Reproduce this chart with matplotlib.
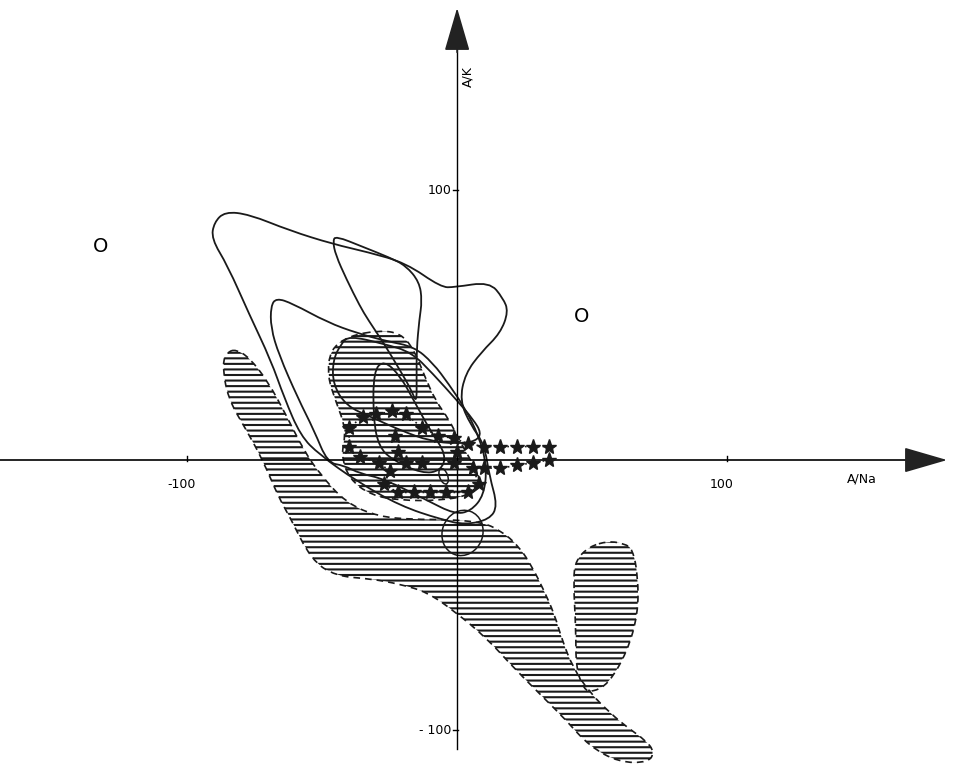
import matplotlib.pyplot as plt
from matplotlib.patches import PathPatch, Ellipse
from matplotlib.path import Path

# outlines, in axis units (A/Na, A/K)
contour_a = [(-86, 92), (-77, 91), (-62, 85), (-46, 80), (-33, 77), (-19, 73), (-6, 64), (-1, 64),
             (12, 66), (17, 60), (19, 55), (16, 47), (9, 40), (3, 32), (1, 22), (5, 13), (10, 6),
             (12, -6), (15, -17), (12, -22), (3, -24), (-6, -22), (-21, -17), (-37, -8), (-51, 2),
             (-58, 9), (-64, 23), (-69, 37), (-77, 54), (-85, 72), (-91, 82), (-90, 88)]
contour_b = [(-67, 60), (-61, 58), (-48, 51), (-37, 47), (-26, 44), (-16, 42), (-9, 36), (-3, 28),
             (3, 19), (8, 9), (11, -2), (10, -13), (5, -19), (-1, -20), (-11, -15), (-27, -7),
             (-36, -5), (-42, -2), (-48, -1), (-53, 11), (-59, 23), (-66, 39), (-69, 49), (-69, 57)]
contour_c = [(-45, 83), (-35, 79), (-25, 75), (-19, 72), (-14, 66), (-13, 59), (-14, 52), (-15, 41),
             (-15, 30), (-15, 21), (-17, 26), (-21, 33), (-27, 43), (-33, 52), (-36, 57), (-41, 67),
             (-45, 76), (-46, 81)]
contour_d = [(-40, 46), (-27, 43), (-17, 40), (-9, 32), (0, 22), (6, 15), (9, 10), (7, 7), (0, 6),
             (-10, 7), (-21, 11), (-32, 16), (-41, 20), (-46, 28), (-46, 37), (-43, 43)]
contour_e = [(-31, 33), (-27, 37), (-21, 31), (-16, 22), (-10, 11), (-4, 2), (-6, -4), (-13, -5),
             (-24, 0), (-29, 5), (-31, 15)]
small_loops = [((2, -27), 15, 17, -20), ((-5, -6), 3, 6, 20)]  # centre, width, height, angle

hatched_main = [(-82, 41), (-77, 38), (-70, 29), (-63, 16), (-57, 4), (-51, -5), (-41, -16), (-29, -21),
                (-16, -22), (-4, -22), (9, -23), (16, -26), (23, -32), (28, -40), (32, -48), (36, -57),
                (39, -67), (43, -77), (49, -86), (57, -94), (63, -99), (70, -104), (73, -108),
                (71, -112), (60, -112), (49, -106), (40, -96), (33, -89), (21, -77), (11, -66),
                (-1, -56), (-11, -49), (-21, -46), (-32, -44), (-45, -43), (-54, -37), (-62, -21),
                (-66, -14), (-72, 0), (-78, 11), (-85, 23), (-87, 36), (-85, 40)]
hatched_right = [(56, -30), (62, -31), (65, -33), (67, -43), (67, -57), (63, -71), (56, -83), (50, -86),
                 (47, -85), (44, -77), (44, -63), (43, -44), (44, -37), (49, -32)]
hatched_centre = [(-29, 48), (-21, 47), (-16, 41), (-12, 31), (-8, 22), (-3, 15), (1, 7), (5, 0),
                  (9, -7), (5, -13), (-6, -15), (-21, -15), (-32, -13), (-40, -7), (-43, 2), (-41, 11),
                  (-45, 22), (-48, 31), (-47, 41), (-40, 46)]

star_x1 = [-40, -40, -35, -30, -24, -19, -13, -7, -1, 4, 10, 16, 22, 28, 34]
star_y1 = [5, 12, 16, 17, 18, 17, 12, 9, 8, 6, 5, 5, 5, 5, 5]
star_x2 = [-36, -29, -25, -27, -22, -16, -10, -4, 4, 8, 6, 10, 16, 22, 28, 34]
star_y2 = [1, -1, -4, -9, -12, -12, -12, -12, -12, -9, -3, -3, -3, -2, -1, 0]
star_x3 = [-19, -13, -1, -23, -22, 0]
star_y3 = [-1, -1, -1, 9, 3, 3]

x_ticks = [-100, 100]
x_tick_labels = ['-100', '100']
y_ticks = [100, -100]
y_tick_labels = ['100', '- 100']
open_marks = [(-132, 79), (46, 53)]


def rounded(pts):
    # closed outline drawn as quadratic curves through the edge midpoints
    n = len(pts)
    mids = [((pts[i][0] + pts[(i + 1) % n][0]) / 2, (pts[i][1] + pts[(i + 1) % n][1]) / 2)
            for i in range(n)]
    verts = [mids[-1]]
    codes = [Path.MOVETO]
    for i in range(n):
        verts += [pts[i], mids[i]]
        codes += [Path.CURVE3, Path.CURVE3]
    verts.append(mids[-1])
    codes.append(Path.CLOSEPOLY)
    return Path(verts, codes)


plt.rcParams['hatch.linewidth'] = 1.5

fig = plt.figure(figsize=(9.55, 7.67), dpi=100)
ax = fig.add_axes([0, 0, 1, 1])
ax.set_xlim(-169.3, 184.4)
ax.set_ylim(-113.7, 170.4)
ax.axis('off')

# axes with arrow heads
ax.plot([-169.3, 172], [0, 0], color='black', lw=1.2)
ax.plot([0, 0], [-107, 160], color='black', lw=1.0)
arrow = dict(arrowstyle='-|>,head_length=1.1,head_width=0.32', mutation_scale=25,
             color='#222222', lw=1.2)
ax.annotate('', xy=(182.5, 0), xytext=(165, 0), arrowprops=arrow)
ax.annotate('', xy=(0, 168.5), xytext=(0, 150), arrowprops=arrow)

for t, lab in zip(x_ticks, x_tick_labels):
    ax.plot([t, t], [-0.5, 1.5], color='black', lw=1)
    ax.text(t - 2, -9, lab, ha='center', va='center', fontsize=9)
for t, lab in zip(y_ticks, y_tick_labels):
    ax.plot([-1.5, 0.5], [t, t], color='black', lw=1)
    ax.text(-2, t, lab, ha='right', va='center', fontsize=9)
ax.text(150, -7, 'A/Na', ha='center', va='center', fontsize=9)
ax.text(4, 142, 'A/K', ha='center', va='center', fontsize=9, rotation=90)
for x, y in open_marks:
    ax.text(x, y, 'O', ha='center', va='center', fontsize=14)

# hatched fields with dashed outlines
for pts in [hatched_main, hatched_right, hatched_centre]:
    ax.add_patch(PathPatch(rounded(pts), facecolor='none', edgecolor='#1a1a1a',
                           hatch='---', linestyle=(0, (4, 3)), lw=1.2))

# solid outlines
for pts in [contour_a, contour_b, contour_c, contour_d, contour_e]:
    ax.add_patch(PathPatch(rounded(pts), fill=False, edgecolor='#1a1a1a', lw=1.3))
for (cx, cy), w, h, ang in small_loops:
    ax.add_patch(Ellipse((cx, cy), w, h, angle=ang, fill=False, edgecolor='#1a1a1a', lw=1.1))

# starred trends
ax.plot(star_x1, star_y1, ls=':', color='#1a1a1a', lw=1.2, marker='*', ms=11)
ax.plot(star_x2, star_y2, ls=':', color='#1a1a1a', lw=1.2, marker='*', ms=11)
ax.plot(star_x3, star_y3, ls='none', color='#1a1a1a', marker='*', ms=11)

fig.savefig('out.png', dpi=100, facecolor='white')
